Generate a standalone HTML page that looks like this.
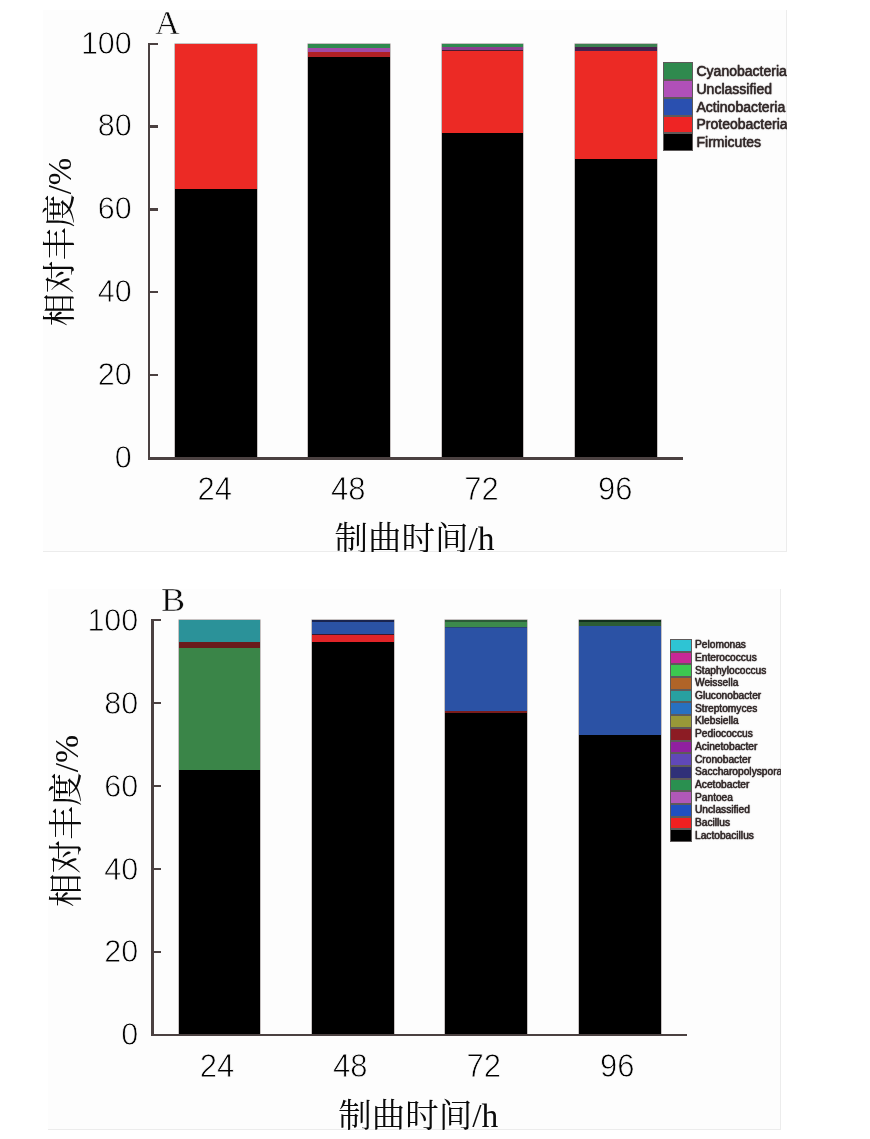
<!DOCTYPE html>
<html lang="zh"><head><meta charset="utf-8"><title>相对丰度</title>
<style>
html,body{margin:0;padding:0;background:#fff}
body{width:870px;height:1139px;position:relative;overflow:hidden;font-family:"Liberation Sans","Noto Serif CJK SC",sans-serif;color:#0a0a0a}
.panel{position:absolute;background:#fdfdfd;box-sizing:border-box;border-right:1.5px solid #ececec;border-bottom:1.5px solid #ececec}
.clip{position:absolute;overflow:hidden}
.inner{position:absolute;left:0;width:870px;height:1139px}
.bar{position:absolute;background:#000;overflow:hidden;box-shadow:0 0 0 .5px rgba(60,40,40,.55)}
.bar i{position:absolute;left:0;right:0;display:block}
.ax{position:absolute;background:#4b4141}
.yt{position:absolute;width:70px;height:40px;line-height:40px;text-align:right;font-size:30.5px;white-space:nowrap;transform:scaleY(1.05);-webkit-text-stroke:.75px #fdfdfd;color:#000}
.xt{position:absolute;width:80px;height:40px;line-height:40px;text-align:center;font-size:31px;white-space:nowrap;transform:scaleY(1.05);-webkit-text-stroke:.75px #fdfdfd;color:#000}
.xl{position:absolute;height:40px;line-height:40px;font-size:33.5px;white-space:nowrap;font-family:"Liberation Serif","Noto Serif CJK SC",serif;font-weight:400}
.yl{position:absolute;width:0;height:0}
.yl span{position:absolute;left:-100px;top:-20px;width:200px;height:40px;line-height:40px;text-align:center;font-size:33px;white-space:nowrap;transform:rotate(-90deg);font-family:"Liberation Serif","Noto Serif CJK SC",serif;font-weight:400}
.lt{position:absolute;transform-origin:0 50%;-webkit-text-stroke:.5px #fdfdfd;font-family:"Liberation Serif",serif;font-size:33px;line-height:36px;height:36px;white-space:nowrap}
.sw{position:absolute;box-sizing:border-box;border:1px solid #5e5a5a}
.swb{border-width:1.2px 1.6px}
.lg{position:absolute;height:0;line-height:0;white-space:nowrap;color:#332a2a;-webkit-text-stroke:.3px #332a2a;text-shadow:0 0 .8px rgba(51,42,42,.9),0 0 1.4px rgba(60,50,50,.55)}
</style></head><body>
<div class="panel" style="left:43px;top:10px;width:744px;height:542px"></div>
<div class="clip" style="left:0;top:10px;width:787px;height:542px"><div class="inner" style="top:-10px">
<div class="bar" style="left:174.8px;top:43.8px;width:81.8px;height:414.2px">
<i style="top:-0.0px;height:145.7px;background:#ec2a25"></i>
</div>
<div class="bar" style="left:308.2px;top:43.8px;width:81.8px;height:414.2px">
<i style="top:-0.0px;height:4.2px;background:#2f8a4e"></i>
<i style="top:4.2px;height:4.4px;background:#a04aa6"></i>
<i style="top:8.6px;height:4.6px;background:#b02024"></i>
</div>
<div class="bar" style="left:441.6px;top:43.8px;width:81.8px;height:414.2px">
<i style="top:-0.0px;height:3.2px;background:#2f8a4e"></i>
<i style="top:3.2px;height:3px;background:#8a3f8e"></i>
<i style="top:6.2px;height:1.2px;background:#4a1a30"></i>
<i style="top:7.4px;height:82.1px;background:#ec2a25"></i>
</div>
<div class="bar" style="left:575.2px;top:43.8px;width:81.8px;height:414.2px">
<i style="top:-0.0px;height:2.8px;background:#3c8050"></i>
<i style="top:2.8px;height:4.9px;background:#4a1f4e"></i>
<i style="top:7.7px;height:107.9px;background:#ec2a25"></i>
</div>
<div class="ax" style="left:147.7px;top:42.6px;width:2.2px;height:417.0px"></div>
<div class="ax" style="left:147.7px;top:456.9px;width:535.3px;height:2.7px"></div>
<div class="yt" style="left:61.8px;top:435.8px">0</div>
<div class="ax" style="left:149px;top:373.96px;width:8.5px;height:2.3px"></div>
<div class="yt" style="left:61.8px;top:352.96px">20</div>
<div class="ax" style="left:149px;top:291.12px;width:8.5px;height:2.3px"></div>
<div class="yt" style="left:61.8px;top:270.12px">40</div>
<div class="ax" style="left:149px;top:208.28px;width:8.5px;height:2.3px"></div>
<div class="yt" style="left:61.8px;top:187.28px">60</div>
<div class="ax" style="left:149px;top:125.44px;width:8.5px;height:2.3px"></div>
<div class="yt" style="left:61.8px;top:104.44px">80</div>
<div class="ax" style="left:149px;top:42.6px;width:8.5px;height:2.3px"></div>
<div class="yt" style="left:61.8px;top:21.6px">100</div>
<div class="xt" style="left:174.8px;top:469.8px">24</div>
<div class="xt" style="left:308.2px;top:469.8px">48</div>
<div class="xt" style="left:441.6px;top:469.8px">72</div>
<div class="xt" style="left:575.2px;top:469.8px">96</div>
<div class="xl" style="left:334.5px;top:518.5px">制曲时间/h</div>
<div class="yl" style="left:59.6px;top:242px"><span style="font-size:33px">相对丰度/%</span></div>
<div class="lt" style="left:155.3px;top:4.5px;transform:scaleX(1.04)">A</div>
<div class="sw" style="left:662.5px;top:62.3px;width:30px;height:17.75px;background:#2f8a4e"></div>
<div class="lg" style="left:696.5px;top:71.17px;font-size:14px">Cyanobacteria</div>
<div class="sw" style="left:662.5px;top:80.05px;width:30px;height:17.75px;background:#b050b8"></div>
<div class="lg" style="left:696.5px;top:88.92px;font-size:14px">Unclassified</div>
<div class="sw" style="left:662.5px;top:97.8px;width:30px;height:17.75px;background:#2a50b0"></div>
<div class="lg" style="left:696.5px;top:106.67px;font-size:14px">Actinobacteria</div>
<div class="sw" style="left:662.5px;top:115.55px;width:30px;height:17.75px;background:#ee2424"></div>
<div class="lg" style="left:696.5px;top:124.42px;font-size:14px">Proteobacteria</div>
<div class="sw" style="left:662.5px;top:133.3px;width:30px;height:17.75px;background:#000"></div>
<div class="lg" style="left:696.5px;top:142.18px;font-size:14px">Firmicutes</div>
</div></div>
<div class="panel" style="left:48px;top:589px;width:732.5px;height:541px"></div>
<div class="clip" style="left:0;top:589px;width:780.5px;height:541px"><div class="inner" style="top:-589px">
<div class="bar" style="left:178.5px;top:620.4px;width:81.8px;height:414.2px">
<i style="top:-0.0px;height:22.1px;background:#2b9299"></i>
<i style="top:22.1px;height:6.0px;background:#6a1a1c"></i>
<i style="top:28.1px;height:121.2px;background:#3a8548"></i>
</div>
<div class="bar" style="left:311.9px;top:620.4px;width:81.8px;height:414.2px">
<i style="top:-0.0px;height:1.2px;background:#1a2450"></i>
<i style="top:1.2px;height:12px;background:#2b52a5"></i>
<i style="top:13.2px;height:1.5px;background:#3a1830"></i>
<i style="top:14.7px;height:6.5px;background:#e02428"></i>
</div>
<div class="bar" style="left:445.3px;top:620.4px;width:81.8px;height:414.2px">
<i style="top:-0.0px;height:1.2px;background:#2c5a38"></i>
<i style="top:1.2px;height:5px;background:#3c8a4c"></i>
<i style="top:6.2px;height:1.2px;background:#2a4478"></i>
<i style="top:7.4px;height:83.1px;background:#2b52a5"></i>
<i style="top:90.5px;height:1.7px;background:#7a1c1c"></i>
</div>
<div class="bar" style="left:578.9px;top:620.4px;width:81.8px;height:414.2px">
<i style="top:-0.0px;height:1.2px;background:#12301c"></i>
<i style="top:1.2px;height:4.8px;background:#2c5c34"></i>
<i style="top:6.0px;height:108.7px;background:#2b52a5"></i>
</div>
<div class="ax" style="left:151.4px;top:619.2px;width:2.2px;height:417.0px"></div>
<div class="ax" style="left:151.4px;top:1033.5px;width:535.3px;height:2.7px"></div>
<div class="yt" style="left:68.3px;top:1013.3px">0</div>
<div class="ax" style="left:152.7px;top:950.56px;width:8.5px;height:2.3px"></div>
<div class="yt" style="left:68.3px;top:930.46px">20</div>
<div class="ax" style="left:152.7px;top:867.72px;width:8.5px;height:2.3px"></div>
<div class="yt" style="left:68.3px;top:847.62px">40</div>
<div class="ax" style="left:152.7px;top:784.88px;width:8.5px;height:2.3px"></div>
<div class="yt" style="left:68.3px;top:764.78px">60</div>
<div class="ax" style="left:152.7px;top:702.04px;width:8.5px;height:2.3px"></div>
<div class="yt" style="left:68.3px;top:681.94px">80</div>
<div class="ax" style="left:152.7px;top:619.2px;width:8.5px;height:2.3px"></div>
<div class="yt" style="left:68.3px;top:599.1px">100</div>
<div class="xt" style="left:176.9px;top:1047.3px">24</div>
<div class="xt" style="left:310.3px;top:1047.3px">48</div>
<div class="xt" style="left:443.7px;top:1047.3px">72</div>
<div class="xt" style="left:577.3px;top:1047.3px">96</div>
<div class="xl" style="left:338.2px;top:1095.6px">制曲时间/h</div>
<div class="yl" style="left:66.5px;top:821.2px"><span style="font-size:33.7px">相对丰度/%</span></div>
<div class="lt" style="left:161.4px;top:581.6px;transform:scaleX(1.1)">B</div>
<div class="sw swb" style="left:669.8px;top:639.0px;width:22.7px;height:12.69px;background:#2ec4d4"></div>
<div class="lg" style="left:695px;top:645.35px;font-size:10.2px">Pelomonas</div>
<div class="sw swb" style="left:669.8px;top:651.69px;width:22.7px;height:12.69px;background:#c82896"></div>
<div class="lg" style="left:695px;top:658.04px;font-size:10.2px">Enterococcus</div>
<div class="sw swb" style="left:669.8px;top:664.38px;width:22.7px;height:12.69px;background:#3cc850"></div>
<div class="lg" style="left:695px;top:670.73px;font-size:10.2px">Staphylococcus</div>
<div class="sw swb" style="left:669.8px;top:677.07px;width:22.7px;height:12.69px;background:#b06428"></div>
<div class="lg" style="left:695px;top:683.42px;font-size:10.2px">Weissella</div>
<div class="sw swb" style="left:669.8px;top:689.76px;width:22.7px;height:12.69px;background:#28a0a0"></div>
<div class="lg" style="left:695px;top:696.11px;font-size:10.2px">Gluconobacter</div>
<div class="sw swb" style="left:669.8px;top:702.45px;width:22.7px;height:12.69px;background:#2870c0"></div>
<div class="lg" style="left:695px;top:708.8px;font-size:10.2px">Streptomyces</div>
<div class="sw swb" style="left:669.8px;top:715.14px;width:22.7px;height:12.69px;background:#989838"></div>
<div class="lg" style="left:695px;top:721.49px;font-size:10.2px">Klebsiella</div>
<div class="sw swb" style="left:669.8px;top:727.83px;width:22.7px;height:12.69px;background:#8c1c24"></div>
<div class="lg" style="left:695px;top:734.18px;font-size:10.2px">Pediococcus</div>
<div class="sw swb" style="left:669.8px;top:740.52px;width:22.7px;height:12.69px;background:#9020a0"></div>
<div class="lg" style="left:695px;top:746.87px;font-size:10.2px">Acinetobacter</div>
<div class="sw swb" style="left:669.8px;top:753.21px;width:22.7px;height:12.69px;background:#6048b8"></div>
<div class="lg" style="left:695px;top:759.56px;font-size:10.2px">Cronobacter</div>
<div class="sw swb" style="left:669.8px;top:765.9px;width:22.7px;height:12.69px;background:#303078"></div>
<div class="lg" style="left:695px;top:772.25px;font-size:10.2px">Saccharopolyspora</div>
<div class="sw swb" style="left:669.8px;top:778.59px;width:22.7px;height:12.69px;background:#2a9050"></div>
<div class="lg" style="left:695px;top:784.94px;font-size:10.2px">Acetobacter</div>
<div class="sw swb" style="left:669.8px;top:791.28px;width:22.7px;height:12.69px;background:#b058b8"></div>
<div class="lg" style="left:695px;top:797.62px;font-size:10.2px">Pantoea</div>
<div class="sw swb" style="left:669.8px;top:803.97px;width:22.7px;height:12.69px;background:#2050c0"></div>
<div class="lg" style="left:695px;top:810.32px;font-size:10.2px">Unclassified</div>
<div class="sw swb" style="left:669.8px;top:816.66px;width:22.7px;height:12.69px;background:#f02020"></div>
<div class="lg" style="left:695px;top:823.0px;font-size:10.2px">Bacillus</div>
<div class="sw swb" style="left:669.8px;top:829.35px;width:22.7px;height:12.69px;background:#000"></div>
<div class="lg" style="left:695px;top:835.7px;font-size:10.2px">Lactobacillus</div>
</div></div>
</body></html>
